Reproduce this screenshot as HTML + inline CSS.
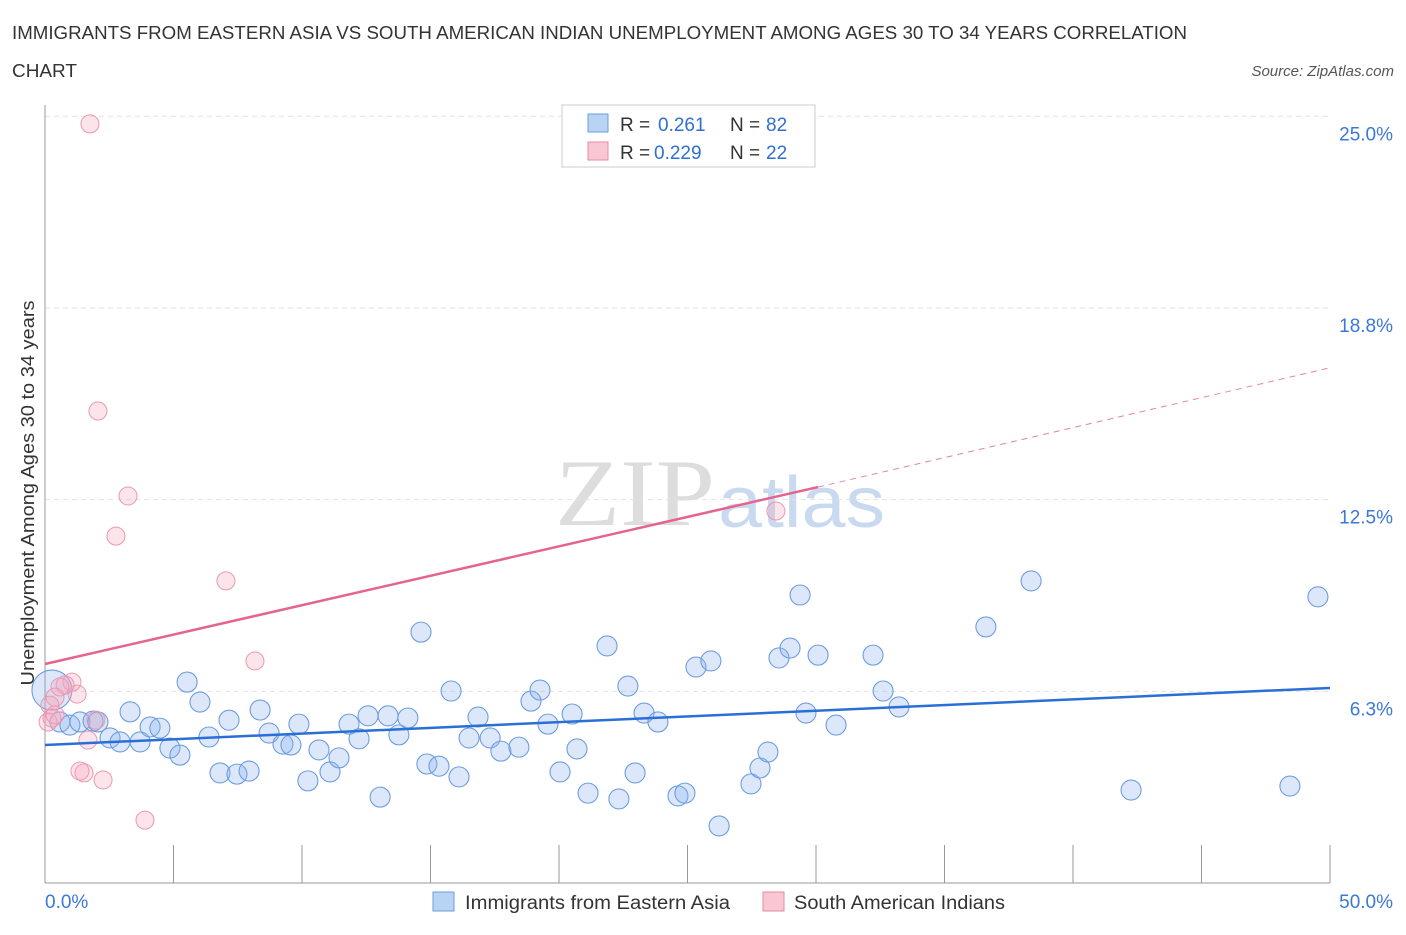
<!DOCTYPE html>
<html><head><meta charset="utf-8"><style>
body{margin:0;background:#fff;font-family:"Liberation Sans",sans-serif}
</style></head><body>
<svg width="1406" height="930" xmlns="http://www.w3.org/2000/svg" font-family="Liberation Sans, sans-serif">
<text x="12" y="39" font-size="18" fill="#333" textLength="1175" lengthAdjust="spacingAndGlyphs">IMMIGRANTS FROM EASTERN ASIA VS SOUTH AMERICAN INDIAN UNEMPLOYMENT AMONG AGES 30 TO 34 YEARS CORRELATION</text>
<text x="12" y="77" font-size="18" fill="#333" textLength="65" lengthAdjust="spacingAndGlyphs">CHART</text>
<text x="1394" y="76" font-size="15" fill="#555" font-style="italic" text-anchor="end">Source: ZipAtlas.com</text>
<text x="555" y="525" font-size="95" fill="#ddd" font-family="Liberation Serif, serif" textLength="160" lengthAdjust="spacingAndGlyphs">ZIP</text>
<text x="718" y="527" font-size="72" fill="#c9daf0" textLength="167" lengthAdjust="spacingAndGlyphs">atlas</text>
<g id="grid"></g>
<g id="axes"></g>
<text transform="translate(34,493) rotate(-90)" font-size="18" fill="#333" text-anchor="middle" textLength="385" lengthAdjust="spacingAndGlyphs">Unemployment Among Ages 30 to 34 years</text>
<g id="marks"></g>
<g id="lines"></g>
<g>
<rect x="562" y="105" width="253" height="62" fill="#fff" stroke="#ccc"/>
<rect x="588" y="114" width="20" height="18" fill="#b9d3f5" stroke="#6a9ee0"/>
<text x="620" y="131" font-size="19" fill="#333">R =</text><text x="658" y="131" font-size="19" fill="#2f6fd0">0.261</text>
<text x="730" y="131" font-size="19" fill="#333">N =</text><text x="766" y="131" font-size="19" fill="#2f6fd0">82</text>
<rect x="588" y="142" width="20" height="18" fill="#f9c6d4" stroke="#e58aa5"/>
<text x="620" y="159" font-size="19" fill="#333">R =</text><text x="654" y="159" font-size="19" fill="#2f6fd0">0.229</text>
<text x="730" y="159" font-size="19" fill="#333">N =</text><text x="766" y="159" font-size="19" fill="#2f6fd0">22</text>
</g>
<g>
<rect x="433" y="892" width="21" height="19" fill="#b9d3f5" stroke="#6a9ee0"/>
<text x="465" y="909" font-size="19" fill="#333" textLength="265" lengthAdjust="spacingAndGlyphs">Immigrants from Eastern Asia</text>
<rect x="763" y="892" width="21" height="19" fill="#f9c6d4" stroke="#e58aa5"/>
<text x="794" y="909" font-size="19" fill="#333" textLength="211" lengthAdjust="spacingAndGlyphs">South American Indians</text>
</g>
</svg>
<script>
const yTicks=[6.25,12.5,18.75,25];
const yTickLabels=["6.3%","12.5%","18.8%","25.0%"];
const xLabels=["0.0%","50.0%"];
const blueX=[0.27,0.58,0.97,1.36,1.87,2.06,2.53,2.92,3.31,3.70,4.09,4.47,4.86,5.25,5.53,6.03,6.38,6.81,7.16,7.47,7.94,8.37,8.72,9.26,9.57,9.88,10.23,10.66,11.09,11.44,11.83,12.22,12.57,13.04,13.35,13.77,14.12,14.63,14.86,15.33,15.80,16.11,16.50,16.85,17.32,17.74,18.44,18.91,19.26,19.57,20.04,20.51,20.70,21.13,21.87,22.33,22.68,22.96,23.31,23.85,24.63,24.90,25.33,25.91,26.23,27.47,27.82,28.13,28.56,28.99,29.38,29.61,30.08,30.78,32.22,32.61,33.23,36.61,38.37,42.26,48.44,49.53];
const blueY=[6.29,5.25,5.15,5.25,5.28,5.25,4.73,4.60,5.58,4.60,5.09,5.05,4.40,4.17,6.55,5.90,4.76,3.59,5.31,3.55,3.65,5.64,4.89,4.53,4.50,5.18,3.33,4.34,3.62,4.08,5.18,4.70,5.45,2.80,5.45,4.83,5.38,8.18,3.88,3.81,6.26,3.46,4.73,5.41,4.73,4.30,4.43,5.93,6.29,5.18,3.62,5.51,4.37,2.93,7.73,2.74,6.42,3.59,5.54,5.25,2.84,2.93,7.04,7.24,1.86,3.23,3.75,4.27,7.34,7.66,9.39,5.54,7.43,5.15,7.43,6.26,5.74,8.35,9.85,3.03,3.16,9.33];
const pinkX=[1.75,2.06,3.23,2.76,7.04,8.17,28.44,3.89,2.26,1.52,1.36,1.67,1.98,1.25,1.05,0.78,0.58,0.39,0.19,0.27,0.12,0.39];
const pinkY=[24.75,15.39,12.62,11.31,9.85,7.24,12.13,2.05,3.36,3.59,3.65,4.66,5.31,6.16,6.55,6.46,6.39,6.06,5.80,5.38,5.25,5.48];
const blueFit=[4.50,6.36];
const pinkFit=[7.14,12.91,16.8];
const NS="http://www.w3.org/2000/svg";
const X=v=>45+v*25.7, Y=v=>883-v*30.67;
function mk(t,a,p){const e=document.createElementNS(NS,t);for(const k in a)e.setAttribute(k,a[k]);document.getElementById(p).appendChild(e);return e;}
yTicks.forEach((t,i)=>{
 const l=mk('line',{x1:45,x2:1330,y1:Y(t),y2:Y(t),stroke:'#e2e2e2','stroke-dasharray':'5,4'},'grid');
 
 
 const tx=mk('text',{x:1393,y:Y(t)+24,'font-size':19,fill:'#3b78d8','text-anchor':'end'},'axes');tx.textContent=yTickLabels[i];
 
 
});
mk('line',{x1:45,x2:45,y1:105,y2:883,stroke:'#999'},'axes');
mk('line',{x1:45,x2:1330,y1:883,y2:883,stroke:'#999'},'axes');
for(let i=0;i<=10;i++){const x=45+i*128.5;mk('line',{x1:x,x2:x,y1:845,y2:883,stroke:'#999'},'axes');}
xLabels.forEach((s,i)=>{const t=mk('text',{x:i?1393:45,y:908,'font-size':19,fill:'#3b78d8','text-anchor':i?'end':'start'},'axes');t.textContent=s;
 
 });
blueX.forEach((v,i)=>{const c=mk('circle',{cx:X(v),cy:Y(blueY[i]),r:i==0?20:10,fill:'rgba(140,180,240,0.3)',stroke:'#6d9de0','stroke-width':1.1},'marks');
 
 });
pinkX.forEach((v,i)=>{const c=mk('circle',{cx:X(v),cy:Y(pinkY[i]),r:9,fill:'rgba(245,165,190,0.3)',stroke:'#eb98b1','stroke-width':1},'marks');
 
 });
const bl=mk('line',{x1:X(0),y1:Y(blueFit[0]),x2:X(50),y2:Y(blueFit[1]),stroke:'#2a6fd6','stroke-width':2.5},'lines');


const pl=mk('line',{x1:X(0),y1:Y(pinkFit[0]),x2:X(30.08),y2:Y(pinkFit[1]),stroke:'#e4648e','stroke-width':2.5},'lines');


const pd=mk('line',{x1:X(30.08),y1:Y(pinkFit[1]),x2:X(50),y2:Y(pinkFit[2]),stroke:'#e4849f','stroke-width':1,'stroke-dasharray':'6,5'},'lines');


</script>
</body></html>
